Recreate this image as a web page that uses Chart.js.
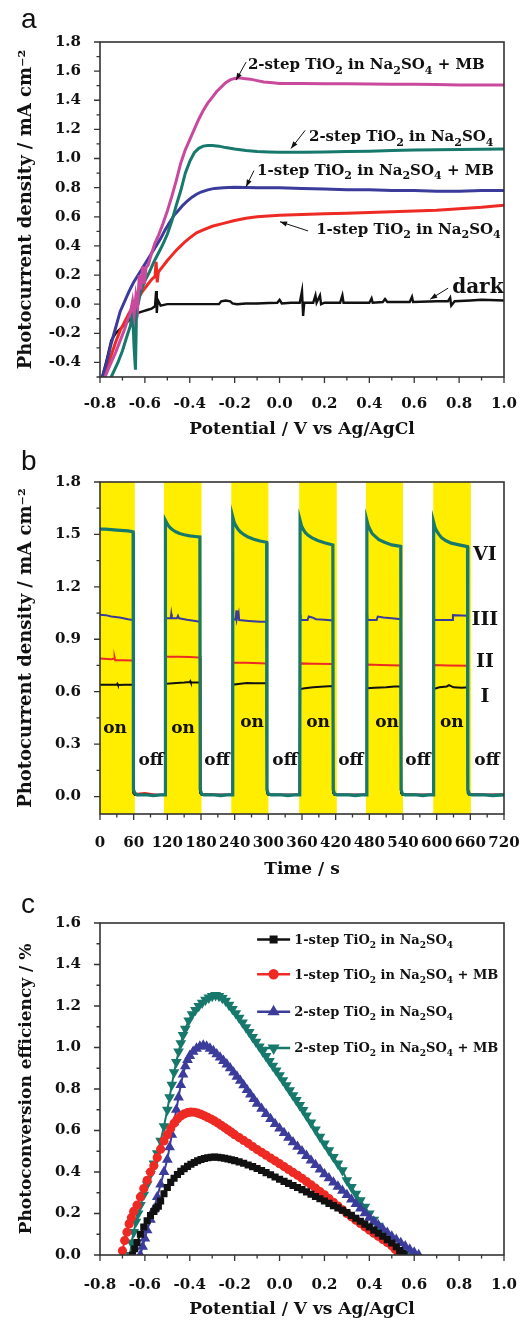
<!DOCTYPE html>
<html><head><meta charset="utf-8">
<script src="https://cdn.jsdelivr.net/npm/chart.js@4.4.1/dist/chart.umd.min.js"></script>
<style>
html,body{margin:0;padding:0;background:#fff;width:532px;height:1322px;overflow:hidden;position:relative}
canvas{position:absolute;left:0}
</style></head><body>
<canvas id="ca" width="532" height="445" style="top:0px"></canvas>
<canvas id="cb" width="532" height="440" style="top:445px"></canvas>
<canvas id="cc" width="532" height="437" style="top:885px"></canvas>
<script>
// ---------------- DATA ----------------
const seriesNames = ['1-step TiO2 in Na2SO4', '1-step TiO2 in Na2SO4 + MB', '2-step TiO2 in Na2SO4', '2-step TiO2 in Na2SO4 + MB'];
const darkName = 'dark';

// Panel a : photocurrent vs potential  [potential V, current mA cm-2]
const curveA_2stepMB = [[-0.79,-0.55],[-0.77,-0.47],[-0.75,-0.4],[-0.73,-0.33],[-0.71,-0.25],[-0.69,-0.17],[-0.675,-0.1],[-0.665,-0.06],[-0.655,0.02],[-0.648,-0.07],[-0.64,0.06],[-0.632,-0.01],[-0.625,0.2],[-0.618,0.1],[-0.61,0.26],[-0.602,0.14],[-0.595,0.25],[-0.585,0.27],[-0.57,0.35],[-0.555,0.42],[-0.54,0.47],[-0.52,0.55],[-0.50,0.64],[-0.48,0.74],[-0.46,0.85],[-0.44,0.97],[-0.42,1.06],[-0.40,1.13],[-0.38,1.2],[-0.36,1.27],[-0.34,1.33],[-0.32,1.38],[-0.30,1.42],[-0.28,1.46],[-0.26,1.49],[-0.24,1.52],[-0.22,1.54],[-0.20,1.55],[-0.18,1.555],[-0.16,1.55],[-0.13,1.545],[-0.10,1.535],[-0.07,1.525],[-0.03,1.52],[0.0,1.515],[0.1,1.515],[0.2,1.513],[0.3,1.513],[0.4,1.512],[0.5,1.51],[0.6,1.51],[0.7,1.508],[0.8,1.505],[0.9,1.505],[1.0,1.505]];
const curveA_2step = [[-0.78,-0.6],[-0.75,-0.5],[-0.72,-0.4],[-0.70,-0.32],[-0.68,-0.22],[-0.665,-0.15],[-0.655,-0.05],[-0.648,-0.3],[-0.642,-0.45],[-0.637,-0.02],[-0.63,0.0],[-0.62,0.08],[-0.61,0.12],[-0.60,0.16],[-0.58,0.22],[-0.56,0.29],[-0.54,0.35],[-0.52,0.41],[-0.50,0.48],[-0.48,0.57],[-0.46,0.68],[-0.44,0.78],[-0.42,0.9],[-0.40,0.98],[-0.38,1.04],[-0.36,1.07],[-0.34,1.085],[-0.32,1.09],[-0.30,1.09],[-0.27,1.085],[-0.24,1.075],[-0.20,1.065],[-0.15,1.055],[-0.10,1.048],[-0.05,1.045],[0.0,1.043],[0.1,1.043],[0.2,1.045],[0.3,1.048],[0.4,1.05],[0.5,1.055],[0.6,1.058],[0.7,1.06],[0.8,1.062],[0.9,1.063],[1.0,1.065]];
const curveA_1stepMB = [[-0.79,-0.5],[-0.77,-0.4],[-0.75,-0.27],[-0.73,-0.16],[-0.71,-0.05],[-0.69,0.02],[-0.67,0.09],[-0.65,0.15],[-0.63,0.2],[-0.61,0.25],[-0.59,0.3],[-0.57,0.35],[-0.55,0.4],[-0.53,0.45],[-0.51,0.51],[-0.49,0.56],[-0.47,0.61],[-0.45,0.645],[-0.43,0.68],[-0.41,0.71],[-0.39,0.735],[-0.37,0.755],[-0.35,0.77],[-0.32,0.785],[-0.29,0.795],[-0.25,0.8],[-0.2,0.802],[-0.1,0.8],[0.0,0.8],[0.1,0.795],[0.2,0.79],[0.3,0.785],[0.4,0.785],[0.5,0.78],[0.6,0.78],[0.7,0.775],[0.8,0.775],[0.9,0.78],[1.0,0.78]];
const curveA_1step = [[-0.79,-0.55],[-0.77,-0.45],[-0.75,-0.35],[-0.73,-0.26],[-0.71,-0.18],[-0.69,-0.12],[-0.67,-0.06],[-0.65,-0.01],[-0.63,0.04],[-0.61,0.09],[-0.59,0.13],[-0.57,0.17],[-0.555,0.19],[-0.55,0.29],[-0.545,0.15],[-0.54,0.22],[-0.52,0.26],[-0.50,0.3],[-0.48,0.335],[-0.46,0.37],[-0.44,0.4],[-0.42,0.43],[-0.40,0.455],[-0.37,0.49],[-0.34,0.51],[-0.30,0.535],[-0.25,0.555],[-0.20,0.575],[-0.15,0.59],[-0.10,0.6],[-0.05,0.605],[0.0,0.61],[0.1,0.615],[0.2,0.62],[0.3,0.625],[0.4,0.63],[0.5,0.635],[0.6,0.64],[0.7,0.645],[0.8,0.655],[0.9,0.665],[1.0,0.68]];
const curveA_dark = [[-0.79,-0.5],[-0.77,-0.38],[-0.75,-0.25],[-0.73,-0.2],[-0.71,-0.17],[-0.69,-0.14],[-0.67,-0.11],[-0.65,-0.08],[-0.63,-0.06],[-0.61,-0.05],[-0.59,-0.04],[-0.57,-0.03],[-0.555,-0.015],[-0.55,0.09],[-0.547,-0.06],[-0.543,0.03],[-0.53,-0.01],[-0.5,0.0],[-0.45,0.0],[-0.4,0.0],[-0.35,0.0],[-0.3,0.0],[-0.27,0.0],[-0.26,0.02],[-0.24,0.025],[-0.22,0.02],[-0.21,0.005],[-0.19,0.0],[-0.15,0.005],[-0.1,0.005],[-0.05,0.008],[-0.01,0.01],[0.0,0.03],[0.01,0.005],[0.05,0.01],[0.09,0.01],[0.1,0.09],[0.105,-0.08],[0.11,0.01],[0.15,0.01],[0.16,0.06],[0.165,0.01],[0.18,0.06],[0.185,0.0],[0.2,0.01],[0.27,0.01],[0.28,0.06],[0.285,0.01],[0.4,0.01],[0.41,0.04],[0.415,0.01],[0.46,0.015],[0.47,0.035],[0.48,0.015],[0.58,0.015],[0.59,0.05],[0.595,0.015],[0.7,0.02],[0.75,0.02],[0.76,0.045],[0.765,-0.01],[0.78,0.02],[0.85,0.025],[0.9,0.03],[1.0,0.025]];

// Panel b : photocurrent vs time  [time s, current mA cm-2]
const bandStart = [0, 114, 234, 355, 474, 594];
const bandEnd = [62, 181, 300, 422, 540, 661];
const curveB_VI = [[0,1.53],[10,1.53],[30,1.525],[50,1.52],[59,1.515],[59.6,0.04],[62,0.02],[66,0.01],[80,0.01],[95,0.005],[110,0.01],[116,0.01],[116.6,1.58],[119,1.565],[122,1.55],[126,1.535],[130,1.525],[135,1.515],[142,1.505],[150,1.498],[160,1.492],[170,1.488],[178,1.485],[178.6,0.04],[181,0.015],[185,0.01],[200,0.01],[215,0.005],[230,0.01],[236,0.01],[236.6,1.6],[239,1.57],[242,1.55],[246,1.53],[250,1.515],[256,1.5],[264,1.485],[274,1.472],[285,1.462],[297,1.455],[297.6,0.04],[300,0.015],[305,0.01],[320,0.01],[335,0.005],[350,0.01],[356,0.01],[356.6,1.58],[359,1.55],[362,1.53],[366,1.51],[371,1.495],[378,1.48],[388,1.465],[400,1.452],[415,1.44],[415.6,0.04],[418,0.015],[423,0.01],[440,0.01],[455,0.005],[470,0.01],[475,0.01],[475.6,1.58],[478,1.55],[481,1.53],[485,1.505],[490,1.49],[497,1.47],[507,1.455],[520,1.44],[536,1.432],[536.6,0.04],[539,0.015],[544,0.01],[560,0.01],[575,0.005],[590,0.01],[594,0.01],[594.6,1.57],[597,1.54],[600,1.52],[604,1.5],[609,1.48],[616,1.465],[626,1.45],[640,1.44],[655,1.43],[655.6,0.04],[658,0.015],[663,0.01],[680,0.01],[700,0.005],[720,0.01]];
const curveB_III = [[0,1.04],[10,1.038],[20,1.03],[35,1.025],[50,1.015],[59,1.01],[59.6,0.02],[62,0.01],[80,0.012],[100,0.01],[116,0.01],[116.6,1.09],[117.6,1.02],[126,1.02],[127,1.045],[128,1.02],[137,1.02],[139,1.035],[141,1.02],[155,1.012],[170,1.005],[178,1.0],[178.6,0.02],[181,0.01],[210,0.01],[236,0.01],[236.6,1.07],[237.6,1.015],[242,1.012],[243,1.065],[244,1.015],[247,1.05],[248,1.01],[265,1.005],[285,1.0],[297,1.0],[297.6,0.02],[300,0.01],[330,0.01],[356,0.01],[356.6,1.04],[357.6,1.012],[370,1.01],[372,1.03],[378,1.025],[385,1.015],[400,1.012],[415,1.008],[415.6,0.02],[418,0.01],[450,0.01],[475,0.01],[475.6,1.06],[476.6,1.01],[493,1.01],[495,1.03],[505,1.025],[520,1.02],[536,1.015],[536.6,0.02],[539,0.01],[570,0.01],[594,0.01],[594.6,1.1],[595.6,1.01],[610,1.01],[628,1.01],[629,1.038],[645,1.036],[655,1.035],[655.6,0.02],[658,0.01],[690,0.01],[720,0.01]];
const curveB_II = [[0,0.79],[20,0.785],[25,0.79],[26,0.795],[27,0.78],[40,0.78],[59,0.778],[59.6,0.02],[62,0.015],[80,0.02],[100,0.01],[116,0.01],[116.6,0.8],[140,0.8],[160,0.798],[179,0.795],[179.6,0.02],[182,0.015],[210,0.01],[236,0.01],[236.6,0.765],[260,0.765],[297,0.762],[297.6,0.02],[300,0.01],[330,0.01],[356,0.01],[356.6,0.762],[380,0.76],[415,0.758],[415.6,0.02],[418,0.01],[450,0.01],[475,0.01],[475.6,0.755],[500,0.752],[536,0.75],[536.6,0.02],[539,0.015],[570,0.01],[594,0.01],[594.6,0.752],[620,0.75],[655,0.748],[655.6,0.02],[658,0.015],[690,0.01],[720,0.012]];
const curveB_I = [[0,0.64],[15,0.64],[30,0.64],[31,0.645],[32,0.638],[45,0.64],[59,0.64],[59.6,0.02],[62,0.01],[80,0.012],[100,0.008],[116,0.01],[116.6,0.645],[130,0.648],[150,0.652],[160,0.655],[161,0.66],[162,0.652],[178,0.652],[178.6,0.02],[181,0.01],[210,0.01],[236,0.01],[236.6,0.64],[250,0.645],[262,0.65],[275,0.648],[297,0.648],[297.6,0.02],[300,0.01],[330,0.01],[356,0.01],[356.6,0.615],[365,0.62],[380,0.625],[400,0.63],[415,0.632],[415.6,0.02],[418,0.01],[450,0.01],[475,0.01],[475.6,0.62],[490,0.622],[510,0.625],[525,0.63],[536,0.63],[536.6,0.02],[539,0.01],[570,0.01],[594,0.01],[594.6,0.615],[605,0.625],[618,0.63],[622,0.638],[630,0.625],[645,0.622],[655,0.625],[655.6,0.02],[658,0.01],[690,0.01],[720,0.01]];
const curveNamesB = ['VI', 'III', 'II', 'I'];

// Panel c : photoconversion efficiency vs potential  [potential V, efficiency %]
const curveC_1step = [[-0.655,0.0],[-0.645,0.03],[-0.635,0.06],[-0.62,0.1],[-0.605,0.135],[-0.59,0.165],[-0.575,0.19],[-0.56,0.21],[-0.55,0.225],[-0.54,0.235],[-0.53,0.26],[-0.515,0.295],[-0.5,0.325],[-0.485,0.35],[-0.47,0.37],[-0.455,0.388],[-0.44,0.403],[-0.425,0.416],[-0.41,0.427],[-0.395,0.437],[-0.38,0.446],[-0.365,0.454],[-0.35,0.46],[-0.335,0.465],[-0.32,0.469],[-0.305,0.471],[-0.29,0.472],[-0.275,0.471],[-0.26,0.469],[-0.245,0.466],[-0.23,0.463],[-0.215,0.459],[-0.2,0.455],[-0.18,0.449],[-0.16,0.442],[-0.14,0.434],[-0.12,0.426],[-0.1,0.417],[-0.08,0.407],[-0.06,0.397],[-0.04,0.387],[-0.02,0.376],[0.0,0.365],[0.02,0.355],[0.04,0.345],[0.06,0.335],[0.08,0.325],[0.1,0.315],[0.12,0.304],[0.14,0.293],[0.16,0.282],[0.18,0.271],[0.2,0.26],[0.22,0.249],[0.24,0.238],[0.26,0.227],[0.28,0.216],[0.3,0.204],[0.32,0.191],[0.34,0.177],[0.36,0.163],[0.38,0.149],[0.4,0.135],[0.42,0.12],[0.44,0.105],[0.46,0.09],[0.48,0.074],[0.5,0.058],[0.52,0.04],[0.535,0.022],[0.548,0.008],[0.555,0.0]];
const curveC_1stepMB = [[-0.70,0.02],[-0.69,0.07],[-0.68,0.11],[-0.67,0.15],[-0.66,0.18],[-0.65,0.21],[-0.635,0.24],[-0.62,0.28],[-0.605,0.32],[-0.59,0.36],[-0.575,0.4],[-0.56,0.43],[-0.545,0.47],[-0.53,0.51],[-0.515,0.55],[-0.5,0.58],[-0.485,0.61],[-0.47,0.635],[-0.455,0.655],[-0.44,0.67],[-0.425,0.68],[-0.41,0.686],[-0.395,0.689],[-0.38,0.688],[-0.365,0.684],[-0.35,0.678],[-0.335,0.671],[-0.32,0.663],[-0.305,0.655],[-0.29,0.646],[-0.275,0.636],[-0.26,0.625],[-0.245,0.614],[-0.23,0.603],[-0.215,0.592],[-0.2,0.58],[-0.18,0.566],[-0.16,0.552],[-0.14,0.538],[-0.12,0.523],[-0.1,0.508],[-0.08,0.495],[-0.06,0.481],[-0.04,0.467],[-0.02,0.454],[0.0,0.44],[0.02,0.426],[0.04,0.412],[0.06,0.398],[0.08,0.384],[0.1,0.37],[0.12,0.354],[0.14,0.338],[0.16,0.322],[0.18,0.306],[0.2,0.29],[0.22,0.272],[0.24,0.254],[0.26,0.236],[0.28,0.218],[0.3,0.2],[0.32,0.184],[0.34,0.168],[0.36,0.152],[0.38,0.136],[0.4,0.12],[0.42,0.105],[0.44,0.09],[0.46,0.075],[0.48,0.06],[0.5,0.044],[0.515,0.028],[0.528,0.012],[0.535,0.0]];
const curveC_2step = [[-0.62,0.0],[-0.61,0.04],[-0.6,0.08],[-0.59,0.12],[-0.575,0.17],[-0.56,0.22],[-0.545,0.28],[-0.53,0.34],[-0.515,0.4],[-0.5,0.46],[-0.49,0.52],[-0.48,0.58],[-0.47,0.64],[-0.46,0.7],[-0.45,0.76],[-0.44,0.82],[-0.43,0.87],[-0.42,0.91],[-0.41,0.94],[-0.4,0.96],[-0.385,0.98],[-0.37,0.995],[-0.355,1.005],[-0.34,1.01],[-0.325,1.005],[-0.31,0.995],[-0.295,0.983],[-0.28,0.968],[-0.265,0.952],[-0.25,0.936],[-0.235,0.919],[-0.22,0.9],[-0.205,0.88],[-0.19,0.86],[-0.175,0.84],[-0.16,0.818],[-0.145,0.796],[-0.13,0.774],[-0.115,0.752],[-0.1,0.73],[-0.08,0.705],[-0.06,0.68],[-0.04,0.656],[-0.02,0.632],[0.0,0.61],[0.02,0.588],[0.04,0.566],[0.06,0.544],[0.08,0.522],[0.1,0.5],[0.12,0.478],[0.14,0.456],[0.16,0.434],[0.18,0.412],[0.2,0.39],[0.22,0.37],[0.24,0.35],[0.26,0.33],[0.28,0.31],[0.3,0.29],[0.32,0.268],[0.34,0.246],[0.36,0.224],[0.38,0.202],[0.4,0.18],[0.42,0.162],[0.44,0.144],[0.46,0.126],[0.48,0.108],[0.5,0.09],[0.52,0.074],[0.54,0.058],[0.56,0.042],[0.58,0.027],[0.6,0.012],[0.62,0.0]];
const curveC_2stepMB = [[-0.665,0.0],[-0.66,0.06],[-0.65,0.11],[-0.64,0.16],[-0.63,0.2],[-0.62,0.24],[-0.605,0.29],[-0.59,0.34],[-0.575,0.39],[-0.56,0.44],[-0.545,0.49],[-0.53,0.55],[-0.515,0.62],[-0.5,0.7],[-0.49,0.76],[-0.48,0.82],[-0.47,0.88],[-0.46,0.93],[-0.45,0.98],[-0.44,1.02],[-0.43,1.06],[-0.42,1.09],[-0.405,1.13],[-0.39,1.16],[-0.375,1.18],[-0.36,1.2],[-0.345,1.215],[-0.33,1.23],[-0.315,1.24],[-0.3,1.248],[-0.285,1.252],[-0.27,1.248],[-0.255,1.238],[-0.24,1.225],[-0.225,1.205],[-0.21,1.185],[-0.195,1.165],[-0.18,1.143],[-0.165,1.12],[-0.15,1.097],[-0.135,1.074],[-0.12,1.05],[-0.105,1.027],[-0.09,1.004],[-0.075,0.981],[-0.06,0.958],[-0.045,0.935],[-0.03,0.912],[-0.015,0.889],[0.0,0.866],[0.015,0.842],[0.03,0.818],[0.045,0.794],[0.06,0.77],[0.075,0.746],[0.09,0.722],[0.105,0.698],[0.12,0.672],[0.14,0.638],[0.16,0.604],[0.18,0.57],[0.2,0.537],[0.22,0.504],[0.24,0.472],[0.26,0.44],[0.28,0.408],[0.3,0.36],[0.32,0.327],[0.34,0.295],[0.36,0.263],[0.38,0.232],[0.4,0.2],[0.42,0.17],[0.44,0.14],[0.46,0.112],[0.48,0.085],[0.5,0.06],[0.52,0.038],[0.54,0.018],[0.555,0.006],[0.565,0.0]];

// tick labels
const ticksA_x = [-0.8,-0.6,-0.4,-0.2,0.0,0.2,0.4,0.6,0.8,1.0];
const ticksA_y = [-0.4,-0.2,0.0,0.2,0.4,0.6,0.8,1.0,1.2,1.4,1.6,1.8];
const ticksB_x = [0,60,120,180,240,300,360,420,480,540,600,660,720];
const ticksB_y = [0.0,0.3,0.6,0.9,1.2,1.5,1.8];
const ticksC_x = [-0.8,-0.6,-0.4,-0.2,0.0,0.2,0.4,0.6,0.8,1.0];
const ticksC_y = [0.0,0.2,0.4,0.6,0.8,1.0,1.2,1.4,1.6];

// ---------------- HELPERS ----------------
const FAM = "'DejaVu Serif', serif";
Chart.defaults.font.family = FAM;
Chart.defaults.font.weight = 'bold';
Chart.defaults.color = '#111';
Chart.defaults.animation = false;

const toXY = arr => arr.map(p => ({x: p[0], y: p[1]}));

function richSegments(text) {
  const out = [];
  for (let i = 0; i < text.length; i++) {
    const ch = text[i];
    const sub = /\d/.test(ch) && i > 0 && /[A-Za-z]/.test(text[i - 1]);
    const last = out[out.length - 1];
    if (last && last.sub === sub) last.t += ch; else out.push({t: ch, sub});
  }
  return out;
}
function drawRich(ctx, text, x, y, size, align, color) {
  const segs = richSegments(text);
  const fMain = `bold ${size}px ${FAM}`, fSub = `bold ${Math.round(size * 0.7)}px ${FAM}`;
  let w = 0;
  segs.forEach(s => { ctx.font = s.sub ? fSub : fMain; s.w = ctx.measureText(s.t).width; w += s.w; });
  let cx = align === 'center' ? x - w / 2 : (align === 'right' ? x - w : x);
  ctx.fillStyle = color || '#111'; ctx.textAlign = 'left'; ctx.textBaseline = 'alphabetic';
  segs.forEach(s => { ctx.font = s.sub ? fSub : fMain; ctx.fillText(s.t, cx, y + (s.sub ? size * 0.3 : 0)); cx += s.w; });
}
function drawArrow(ctx, x1, y1, x2, y2) {
  ctx.strokeStyle = '#111'; ctx.fillStyle = '#111'; ctx.lineWidth = 1;
  ctx.beginPath(); ctx.moveTo(x1, y1); ctx.lineTo(x2, y2); ctx.stroke();
  const a = Math.atan2(y2 - y1, x2 - x1), L = 7, W = 2.6;
  ctx.beginPath(); ctx.moveTo(x2, y2);
  ctx.lineTo(x2 - L * Math.cos(a) + W * Math.sin(a), y2 - L * Math.sin(a) - W * Math.cos(a));
  ctx.lineTo(x2 - L * Math.cos(a) - W * Math.sin(a), y2 - L * Math.sin(a) + W * Math.cos(a));
  ctx.closePath(); ctx.fill();
}

const framePlugin = {
  id: 'frame',
  afterDraw(chart, args, o) {
    const {ctx, chartArea: a} = chart;
    const xs = chart.scales.x, ys = chart.scales.y;
    ctx.save();
    ctx.strokeStyle = '#333'; ctx.lineWidth = 1.6;
    ctx.strokeRect(a.left, a.top, a.right - a.left, a.bottom - a.top);
    ctx.lineWidth = 1.3; ctx.beginPath();
    const isMajor = (v, m) => Math.abs(v / m - Math.round(v / m)) < 1e-6;
    let first = Math.ceil(xs.min / o.xMinor - 1e-9);
    for (let i = first; i * o.xMinor <= xs.max + 1e-9; i++) {
      const v = i * o.xMinor, px = xs.getPixelForValue(v), L = isMajor(v, o.xMajor) ? 6 : 3.5;
      ctx.moveTo(px, a.bottom); ctx.lineTo(px, a.bottom + L);
    }
    first = Math.ceil(ys.min / o.yMinor - 1e-9);
    for (let i = first; i * o.yMinor <= ys.max + 1e-9; i++) {
      const v = i * o.yMinor, py = ys.getPixelForValue(v), L = isMajor(v, o.yMajor) ? 6 : 3.5;
      ctx.moveTo(a.left, py); ctx.lineTo(a.left - L, py);
    }
    ctx.stroke();
    ctx.font = "28px 'Liberation Sans', Arial, sans-serif"; ctx.fillStyle = '#111';
    ctx.textAlign = 'left'; ctx.textBaseline = 'alphabetic';
    ctx.fillText(o.letter, o.lx, o.ly);
    ctx.restore();
  }
};

const annoPlugin = {
  id: 'anno',
  afterDatasetsDraw(chart, args, o) {
    const {ctx} = chart; const xs = chart.scales.x, ys = chart.scales.y;
    ctx.save();
    (o.arrows || []).forEach(r => drawArrow(ctx, xs.getPixelForValue(r[0]), ys.getPixelForValue(r[1]), xs.getPixelForValue(r[2]), ys.getPixelForValue(r[3])));
    (o.labels || []).forEach(l => drawRich(ctx, l.text, xs.getPixelForValue(l.x), ys.getPixelForValue(l.y), l.size, l.align || 'left', l.color));
    if (o.legend) {
      const g = o.legend;
      chart.data.datasets.forEach((ds, i) => {
        const y = ys.getPixelForValue(g.rows[i]);
        const x1 = xs.getPixelForValue(g.x1), x2 = xs.getPixelForValue(g.x2);
        ctx.strokeStyle = ds.borderColor; ctx.lineWidth = 2.5;
        ctx.beginPath(); ctx.moveTo(x1, y); ctx.lineTo(x2, y); ctx.stroke();
        ctx.fillStyle = ds.borderColor; ctx.strokeStyle = ds.borderColor;
        Chart.helpers.drawPoint(ctx, {pointStyle: ds.pointStyle, rotation: ds.pointRotation || 0, radius: ds.pointRadius + 0.3, borderWidth: 1}, (x1 + x2) / 2, y);
        drawRich(ctx, ds.label, xs.getPixelForValue(g.tx), y + g.size * 0.35, g.size, 'left', '#111');
      });
    }
    ctx.restore();
  }
};

function scalesFor(c) {
  return {
    x: {
      type: 'linear', min: c.xmin, max: c.xmax,
      afterBuildTicks: s => { s.ticks = c.xt.map(v => ({value: v})); },
      afterFit: s => { s.height = c.xh; },
      grid: {display: false}, border: {display: false},
      ticks: {font: {size: 15, weight: 'bold'}, color: '#111', padding: c.xpad, maxRotation: 0, autoSkip: false, callback: c.xfmt},
      title: {display: true, text: c.xTitle, font: {size: 17, weight: 'bold'}, color: '#111', padding: {top: 0, bottom: c.xtpad}}
    },
    y: {
      type: 'linear', min: c.ymin, max: c.ymax,
      afterBuildTicks: s => { s.ticks = c.yt.map(v => ({value: v})); },
      afterFit: s => { s.width = 100; },
      grid: {display: false}, border: {display: false},
      ticks: {font: {size: 15, weight: 'bold'}, color: '#111', padding: 11, autoSkip: false, callback: v => Number(v).toFixed(1)},
      title: {display: true, text: c.yTitle, font: {size: c.ytSize, weight: 'bold'}, color: '#111', padding: {top: 16, bottom: 0}}
    }
  };
}
const lineDs = (label, arr, color, w, order) => ({label, data: toXY(arr), borderColor: color, backgroundColor: color, borderWidth: w, pointRadius: 0, tension: 0, order});

// ---------------- PANEL A ----------------
new Chart(document.getElementById('ca'), {
  type: 'line',
  data: {datasets: [
    lineDs(seriesNames[3], curveA_2stepMB, '#c94a9d', 3, 0),
    lineDs(seriesNames[2], curveA_2step, '#17786c', 3, 1),
    lineDs(seriesNames[1], curveA_1stepMB, '#3b3b9c', 3, 2),
    lineDs(seriesNames[0], curveA_1step, '#ee2a24', 3, 3),
    lineDs(darkName, curveA_dark, '#111111', 2.4, 4)
  ]},
  options: {
    responsive: false, devicePixelRatio: 1,
    layout: {padding: {left: 0, right: 28, top: 42, bottom: 0}},
    scales: scalesFor({xmin: -0.8, xmax: 1.0, ymin: -0.5, ymax: 1.8, xt: ticksA_x, yt: ticksA_y, xh: 68, xpad: 10, xtpad: 5, ytSize: 18,
      xfmt: v => Number(v).toFixed(1), xTitle: 'Potential / V vs Ag/AgCl', yTitle: 'Photocurrent density / mA cm\u207B\u00B2'}),
    plugins: {
      legend: {display: false}, tooltip: {enabled: false},
      frame: {xMinor: 0.1, xMajor: 0.2, yMinor: 0.1, yMajor: 0.2, letter: 'a', lx: 21, ly: 28},
      anno: {
        labels: [
          {text: seriesNames[3], x: -0.141, y: 1.614, size: 15},
          {text: seriesNames[2], x: 0.131, y: 1.117, size: 15},
          {text: seriesNames[1], x: -0.1, y: 0.89, size: 15},
          {text: seriesNames[0], x: 0.163, y: 0.483, size: 15},
          {text: darkName, x: 0.769, y: 0.076, size: 20}
        ],
        arrows: [
          [-0.149, 1.662, -0.194, 1.538],
          [0.114, 1.193, 0.051, 1.069],
          [-0.114, 0.917, -0.149, 0.807],
          [0.127, 0.503, 0.002, 0.566],
          [0.751, 0.11, 0.671, 0.034]
        ]
      }
    }
  },
  plugins: [framePlugin, annoPlugin]
});

// ---------------- PANEL B ----------------
const bandPts = [];
bandStart.forEach((s, i) => { bandPts.push([s, -0.1], [s, 1.8], [bandEnd[i], 1.8], [bandEnd[i], -0.1]); });
new Chart(document.getElementById('cb'), {
  type: 'line',
  data: {datasets: [
    {label: 'light on', data: toXY(bandPts), borderWidth: 0, borderColor: 'rgba(0,0,0,0)', backgroundColor: '#ffee00', fill: 'start', pointRadius: 0, tension: 0, order: 99},
    lineDs(curveNamesB[0], curveB_VI, '#17786c', 3.2, 0),
    lineDs(curveNamesB[1], curveB_III, '#3b3b9c', 2, 3),
    lineDs(curveNamesB[2], curveB_II, '#ee2a24', 2, 2),
    lineDs(curveNamesB[3], curveB_I, '#111111', 2, 1)
  ]},
  options: {
    responsive: false, devicePixelRatio: 1,
    layout: {padding: {left: 0, right: 28, top: 37, bottom: 0}},
    scales: scalesFor({xmin: 0, xmax: 720, ymin: -0.1, ymax: 1.8, xt: ticksB_x, yt: ticksB_y, xh: 71, xpad: 12, xtpad: 5, ytSize: 18,
      xfmt: v => String(Math.round(v)), xTitle: 'Time / s', yTitle: 'Photocurrent density / mA cm\u207B\u00B2'}),
    plugins: {
      legend: {display: false}, tooltip: {enabled: false},
      frame: {xMinor: 30, xMajor: 60, yMinor: 0.15, yMajor: 0.3, letter: 'b', lx: 21, ly: 25},
      anno: {
        labels: [
          {text: 'VI', x: 686, y: 1.354, size: 19, align: 'center'},
          {text: 'III', x: 686, y: 0.983, size: 19, align: 'center'},
          {text: 'II', x: 686, y: 0.743, size: 19, align: 'center'},
          {text: 'I', x: 686, y: 0.543, size: 19, align: 'center'},
          {text: 'on', x: 26.7, y: 0.363, size: 17, align: 'center'},
          {text: 'on', x: 148, y: 0.363, size: 17, align: 'center'},
          {text: 'on', x: 271, y: 0.397, size: 17, align: 'center'},
          {text: 'on', x: 388.5, y: 0.397, size: 17, align: 'center'},
          {text: 'on', x: 511.5, y: 0.397, size: 17, align: 'center'},
          {text: 'on', x: 627, y: 0.397, size: 17, align: 'center'},
          {text: 'off', x: 91, y: 0.18, size: 17, align: 'center'},
          {text: 'off', x: 208.5, y: 0.18, size: 17, align: 'center'},
          {text: 'off', x: 329.7, y: 0.18, size: 17, align: 'center'},
          {text: 'off', x: 447, y: 0.18, size: 17, align: 'center'},
          {text: 'off', x: 566.7, y: 0.18, size: 17, align: 'center'},
          {text: 'off', x: 689.7, y: 0.18, size: 17, align: 'center'}
        ]
      }
    }
  },
  plugins: [framePlugin, annoPlugin]
});

// ---------------- PANEL C ----------------
const markDs = (label, arr, color, style, rot, r) => ({label, data: toXY(arr), borderColor: color, backgroundColor: color, pointBackgroundColor: color, pointBorderColor: color, borderWidth: 2, pointRadius: r, pointStyle: style, pointRotation: rot, tension: 0});
new Chart(document.getElementById('cc'), {
  type: 'line',
  data: {datasets: [
    markDs(seriesNames[0], curveC_1step, '#111111', 'rect', 0, 3.6),
    markDs(seriesNames[1], curveC_1stepMB, '#ee2a24', 'circle', 0, 3.6),
    markDs(seriesNames[2], curveC_2step, '#3c3c9c', 'triangle', 0, 4.2),
    markDs(seriesNames[3], curveC_2stepMB, '#17786c', 'triangle', 180, 4.2)
  ]},
  options: {
    responsive: false, devicePixelRatio: 1,
    layout: {padding: {left: 0, right: 28, top: 38, bottom: 0}},
    scales: scalesFor({xmin: -0.8, xmax: 1.0, ymin: 0, ymax: 1.6, xt: ticksC_x, yt: ticksC_y, xh: 67, xpad: 13, xtpad: 2, ytSize: 17,
      xfmt: v => Number(v).toFixed(1), xTitle: 'Potential / V vs Ag/AgCl', yTitle: 'Photoconversion efficiency / %'}),
    plugins: {
      legend: {display: false}, tooltip: {enabled: false},
      frame: {xMinor: 0.1, xMajor: 0.2, yMinor: 0.1, yMajor: 0.2, letter: 'c', lx: 21, ly: 28},
      anno: {legend: {x1: -0.1, x2: 0.047, tx: 0.065, rows: [1.52, 1.353, 1.172, 0.998], size: 13}}
    }
  },
  plugins: [framePlugin, annoPlugin]
});
</script>
</body></html>
